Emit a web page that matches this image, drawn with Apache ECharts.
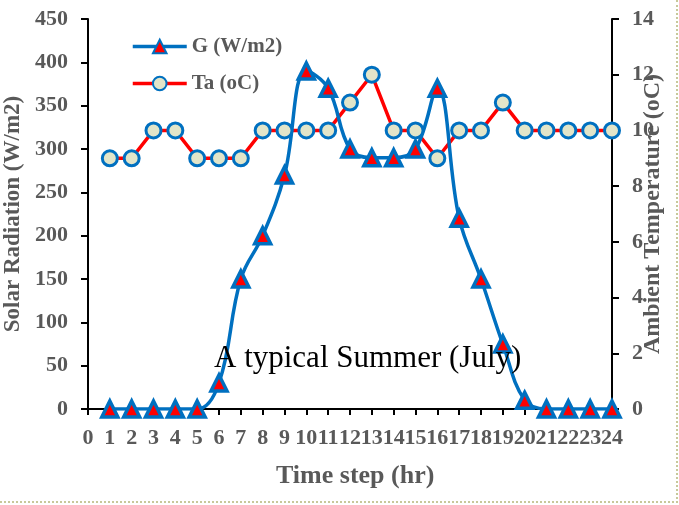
<!DOCTYPE html>
<html><head><meta charset="utf-8">
<script src="https://cdn.jsdelivr.net/npm/echarts@6/dist/echarts.min.js"></script>
<style>html,body{margin:0;padding:0;background:#fff}#c{width:679px;height:505px}
#frame{position:absolute;left:0;top:0;width:676px;height:501px;border-right:2px dotted #c8c89a;border-bottom:2px dotted #c8c89a;pointer-events:none}</style>
</head><body><div id="c"></div><div id="frame"></div>
<script>
const hours = [1,2,3,4,5,6,7,8,9,10,11,12,13,14,15,16,17,18,19,20,21,22,23,24];
const G = [0,0,0,0,0,30,150,200,270,390,370,300,290,290,300,370,220,150,75,10,0,0,0,0];
const Ta = [9,9,10,10,9,9,9,10,10,10,10,11,12,10,10,9,10,10,11,10,10,10,10,10];
const leftTicks = [0,450,50];
const rightTicks = [0,14,2];

const font = 'Liberation Serif';
const gray = '#595959';
const chart = echarts.init(document.getElementById('c'));
function aLine(){ return {show:true, onZero:false, lineStyle:{color:'#000', width:2}}; }
function lbl(m){ return {fontFamily:font, fontWeight:'bold', fontSize:22, color:gray, margin:m, showMinLabel:true, showMaxLabel:true, hideOverlap:false}; }
function tick(len){ return {show:true, length:len, lineStyle:{color:'#000', width:2}}; }
chart.setOption({
  animation:false,
  grid: {left:88, right:67, top:19, bottom:96, outerBoundsMode:'none', containLabel:false},
  title: [
    {text:'A typical Summer (July)', left:209, top:338,
     textStyle:{fontFamily:font, fontWeight:'normal', fontSize:31, color:'#000'}},
    {text:'Time step (hr)', left:271, top:458,
     textStyle:{fontFamily:font, fontWeight:'bold', fontSize:26, color:gray}}
  ],
  legend: {
    orient:'vertical', left:126, top:31, itemGap:16, itemWidth:54, itemHeight:17,
    textStyle:{fontFamily:font, fontWeight:'bold', fontSize:21, color:gray},
    lineStyle:{width:3.5},
    data:['G (W/m2)','Ta (oC)']
  },
  xAxis: [
    {type:'value', min:0, max:24, interval:1, position:'bottom',
     axisLine:aLine(), axisTick:tick(6),
     axisLabel:lbl(18), splitLine:{show:false}}
  ],
  yAxis: [
    {type:'value', min:leftTicks[0], max:leftTicks[1], interval:leftTicks[2], position:'left',
     name:'Solar Radiation (W/m2)', nameLocation:'middle', nameGap:75,
     nameTextStyle:{fontFamily:font, fontWeight:'bold', fontSize:23, color:gray, verticalAlign:'middle'},
     axisLine:aLine(), axisTick:tick(7),
     axisLabel:lbl(20), splitLine:{show:false}},
    {type:'value', min:rightTicks[0], max:rightTicks[1], interval:rightTicks[2], position:'right',
     name:'Ambient Temperature (oC)', nameLocation:'middle', nameGap:41, nameRotate:90, nameMoveOverlap:false,
     nameTextStyle:{fontFamily:font, fontWeight:'bold', fontSize:24, color:gray, verticalAlign:'middle'},
     axisLine:aLine(), axisTick:tick(7),
     axisLabel:lbl(20), splitLine:{show:false}}
  ],
  series: [
    {name:'Ta (oC)', type:'line', yAxisIndex:1,
     data: hours.map((h,i)=>[h,Ta[i]]),
     lineStyle:{color:'#ff0000', width:3.5}, symbol:'circle', symbolSize:15,
     itemStyle:{color:'#e2e5c9', borderColor:'#0070c0', borderWidth:3}},
    {name:'G (W/m2)', type:'line', yAxisIndex:0, smooth:0.4,
     data: hours.map((h,i)=>[h,G[i]]),
     lineStyle:{color:'#0070c0', width:3.5}, symbol:'triangle', symbolSize:16,
     itemStyle:{color:'#ff0000', borderColor:'#0070c0', borderWidth:3.5}}
  ]
});
</script></body></html>
